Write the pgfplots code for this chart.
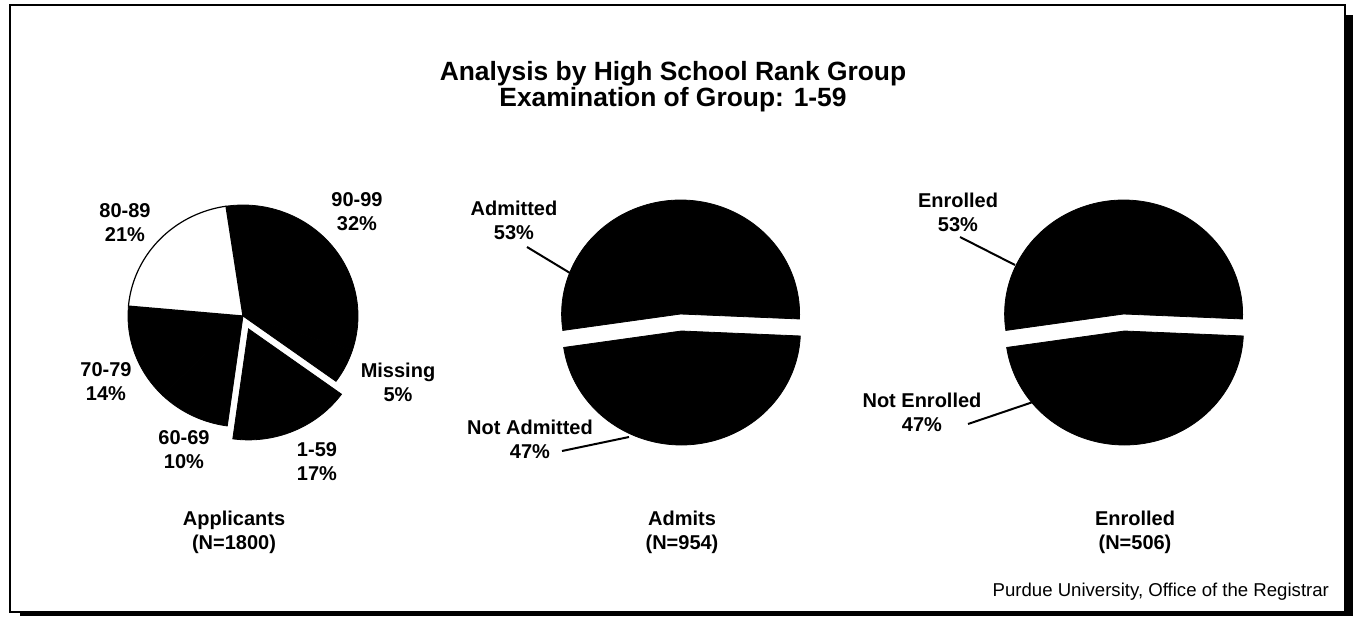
\documentclass[border=0pt]{standalone}
\usepackage{pgfplots}
\pgfplotsset{compat=1.18}
\usepackage{fontspec}
\setmainfont{Liberation Sans}
% slice: cx cy rx ry startpct endpct total startangle style
\newcommand{\slice}[9]{%
  \addplot[#9, domain={#8-(#6)*360/#7}:{#8-(#5)*360/#7}, samples=90, variable=\t]
    ({#1+#3*cos(\t)},{#2+#4*sin(\t)}) -- (axis cs:#1,#2) -- cycle;}
\newcommand{\lbl}{\fontsize{10}{12}\selectfont\bfseries}
\begin{document}
\begin{tikzpicture}
\begin{axis}[width=679pt, height=308.5pt, scale only axis,
  xmin=0, xmax=1358, ymin=0, ymax=617, hide axis, clip=false]
\path (axis cs:0,0) rectangle (axis cs:1358,617);
% frame with shadow
\fill[black] (axis cs:1345,2) rectangle (axis cs:1353,602);
\fill[black] (axis cs:20,1.5) rectangle (axis cs:1353,5);
\draw[line width=1pt] (axis cs:10,5) rectangle (axis cs:1345,612);
% titles
\node[font=\fontsize{13.2}{15}\selectfont\bfseries] at (axis cs:673,543) {Analysis by High School Rank Group};
\node[font=\fontsize{13.2}{15}\selectfont\bfseries] at (axis cs:673,517) {Examination of Group: 1-59};
% Pie 1: Applicants (percent values; total 99)
\slice{243}{301}{115}{111}{0}{32}{99}{98.5}{fill=black, draw=black, line width=0.4pt}
\slice{243}{301}{115}{111}{32}{37}{99}{98.5}{fill=black, draw=black, line width=0.4pt}
\slice{248.5}{288.1}{115}{111}{37}{54}{99}{98.5}{fill=black, draw=black, line width=0.4pt}
\slice{243}{301}{115}{111}{54}{64}{99}{98.5}{fill=black, draw=black, line width=0.4pt}
\slice{243}{301}{115}{111}{64}{78}{99}{98.5}{fill=black, draw=black, line width=0.4pt}
\slice{243}{301}{115}{111}{78}{99}{99}{98.5}{fill=white, draw=black, line width=0.6pt}
\node[font=\lbl, align=center] at (axis cs:357,405) {90-99\\32\%};
\node[font=\lbl, align=center] at (axis cs:125,394.5) {80-89\\21\%};
\node[font=\lbl, align=center] at (axis cs:398,235) {Missing\\5\%};
\node[font=\lbl, align=center] at (axis cs:106,235) {70-79\\14\%};
\node[font=\lbl, align=center] at (axis cs:184,167) {60-69\\10\%};
\node[font=\lbl, align=center] at (axis cs:317,155) {1-59\\17\%};
% Pie 2: Admits
\slice{680.6}{303}{119}{114}{0}{53}{100}{188.3}{fill=black, draw=black, line width=0.4pt}
\slice{681.4}{286}{119}{114}{53}{100}{100}{188.3}{fill=black, draw=black, line width=0.4pt}
\node[font=\lbl, align=center] at (axis cs:514,396.5) {Admitted\\53\%};
\node[font=\lbl, align=center] at (axis cs:530,177.5) {Not Admitted\\47\%};
\draw[line width=1pt] (axis cs:527,370) -- (axis cs:570,344);
\draw[line width=1pt] (axis cs:562,166) -- (axis cs:629,180);
% Pie 3: Enrolled
\slice{1123.6}{303}{119}{114}{0}{53}{100}{188.3}{fill=black, draw=black, line width=0.4pt}
\slice{1124.4}{286}{119}{114}{53}{100}{100}{188.3}{fill=black, draw=black, line width=0.4pt}
\node[font=\lbl, align=center] at (axis cs:958,404.5) {Enrolled\\53\%};
\node[font=\lbl, align=center] at (axis cs:922,204.5) {Not Enrolled\\47\%};
\draw[line width=1pt] (axis cs:960,380) -- (axis cs:1015,352);
\draw[line width=1pt] (axis cs:968,193) -- (axis cs:1033,215);
% bottom labels
\node[font=\lbl, align=center] at (axis cs:234,85) {Applicants\\(N=1800)};
\node[font=\lbl, align=center] at (axis cs:682,85) {Admits\\(N=954)};
\node[font=\lbl, align=center] at (axis cs:1135,85) {Enrolled\\(N=506)};
\node[font=\fontsize{9.3}{11}\selectfont, anchor=east] at (axis cs:1336,25) {Purdue University, Office of the Registrar};
\end{axis}
\end{tikzpicture}
\end{document}
